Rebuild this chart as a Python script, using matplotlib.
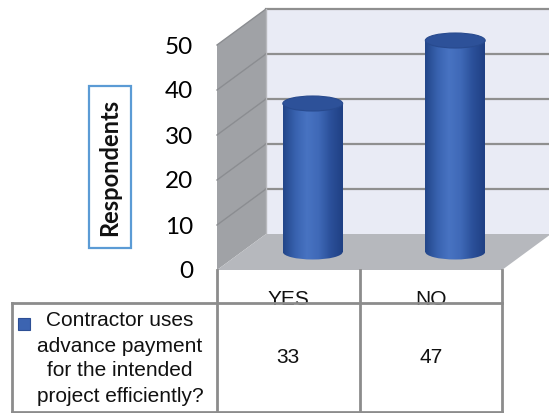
import numpy as np
import matplotlib
matplotlib.use("Agg")
import matplotlib.pyplot as plt
from matplotlib.patches import Polygon, Rectangle, Ellipse
from matplotlib.colors import LinearSegmentedColormap

# data
categories = ["YES", "NO"]
respondents = [33, 47]
y_ticks = [0, 10, 20, 30, 40, 50]
y_max = 50
series_label = "Contractor uses\nadvance payment\nfor the intended\nproject efficiently?"
y_title = "Respondents"

W, H = 549, 413
DPI = 100
fig = plt.figure(figsize=(W / DPI, H / DPI), dpi=DPI)

# front face of the plot box, pixels from the top-left corner
left, right, top, bottom = 217, 502, 45, 270
ax = fig.add_axes([left / W, 1 - bottom / H, (right - left) / W, (bottom - top) / H])
ax.set_xlim(0, len(categories))
ax.set_ylim(0, y_max)
ax.patch.set_visible(False)
for s in ax.spines.values():
    s.set_visible(False)
ax.set_xticks([])
ax.set_yticks(y_ticks)
ax.set_yticklabels([str(t) for t in y_ticks], fontsize=17.5, family="Lato")
ax.tick_params(axis="y", length=0, pad=17)

# overlay in pixel units for the fake 3d box
ov = fig.add_axes([0, 0, 1, 1])
ov.axis("off")

DX, DY = 49, 36  # depth offset of the back wall


def proj(x, y, d):
    px, py = ax.transData.transform((x, y))
    return (px + DX * d, py + DY * d)


n = len(categories)
grid_c = "#8f8f8f"

side = [proj(0, 0, 0), proj(0, y_max, 0), proj(0, y_max, 1), proj(0, 0, 1)]
floor = [proj(0, 0, 0), proj(n, 0, 0), proj(n, 0, 1), proj(0, 0, 1)]
back = [proj(0, 0, 1), proj(n, 0, 1), proj(n, y_max, 1), proj(0, y_max, 1)]
ov.add_patch(Polygon(back, closed=True, fc="#e9ebf5", ec="none", zorder=1))
ov.add_patch(Polygon(side, closed=True, fc="#a0a2a6", ec="none", zorder=1))
ov.add_patch(Polygon(floor, closed=True, fc="#b6b8bd", ec="none", zorder=1))

for t in y_ticks[1:]:
    a, b = proj(0, t, 1), proj(n, t, 1)
    ov.plot([a[0], b[0]], [a[1], b[1]], color=grid_c, lw=1.6, zorder=2)
    a, b = proj(0, t, 0), proj(0, t, 1)
    ov.plot([a[0], b[0]], [a[1], b[1]], color="#8b8d91", lw=1.0, zorder=2)
a, b = proj(0, 0, 1), proj(0, y_max, 1)
ov.plot([a[0], b[0]], [a[1], b[1]], color="#b8b9bd", lw=1.0, zorder=2)

# cylinders
cyl_cmap = LinearSegmentedColormap.from_list(
    "cyl", ["#234689", "#3862af", "#4873c2", "#3f69b7", "#2b509a", "#1f4084"])
grad = cyl_cmap(np.linspace(0, 1, 64))[None, :, :]
bar_w = 0.42
eh = 15
for i, v in enumerate(respondents):
    cx, y0 = proj(i + 0.5, 0, 0.5)
    _, y1 = proj(i + 0.5, v, 0.5)
    cw = proj(i + 0.5 + bar_w / 2, 0, 0)[0] - proj(i + 0.5 - bar_w / 2, 0, 0)[0]
    body = Rectangle((cx - cw / 2, y0), cw, y1 - y0, fc="none", ec="none")
    base = Ellipse((cx, y0), cw, eh, fc="none", ec="none")
    ov.add_patch(body)
    ov.add_patch(base)
    for clip in (body, base):
        im = ov.imshow(grad, extent=(cx - cw / 2, cx + cw / 2, y0 - eh / 2, y1),
                       aspect="auto", zorder=3, interpolation="bilinear")
        im.set_clip_path(clip)
    ov.add_patch(Ellipse((cx, y1), cw, eh, fc="#2d5199", ec="#284a8e", lw=0.8, zorder=4))

# data table under the chart
tc = "#8c8c8c"
col_x = [12] + [proj(k, 0, 0)[0] for k in range(n + 1)]
row_top = proj(0, 0, 0)[1]
row_mid = H - 303
row_bot = H - 412
for xk in col_x[1:]:
    ov.plot([xk, xk], [row_top, row_bot], color=tc, lw=2, zorder=5)
ov.plot([col_x[0], col_x[0]], [row_mid, row_bot], color=tc, lw=2, zorder=5)
ov.plot([col_x[0], col_x[-1]], [row_mid, row_mid], color=tc, lw=2, zorder=5)
ov.plot([col_x[0], col_x[-1]], [row_bot, row_bot], color=tc, lw=2, zorder=5)

tfont = dict(family="Liberation Sans", fontsize=15, color="#111111")
for k, (cat, v) in enumerate(zip(categories, respondents)):
    xc = (col_x[k + 1] + col_x[k + 2]) / 2
    ov.text(xc, row_mid - 2, cat, ha="center", va="baseline", zorder=4, **tfont)
    ov.text(xc, (row_mid + row_bot) / 2, str(v), ha="center", va="center", **tfont)

ov.add_patch(Rectangle((18, H - 330), 12, 12, fc="#3c64b1", ec="#2d4f95", lw=0.8, zorder=5))
ov.text(120, (row_mid + row_bot) / 2 - 1, series_label, ha="center", va="center",
        linespacing=1.4, **tfont)

# axis title in a framed box
ov.add_patch(Rectangle((89, H - 248), 42, 162, fc="white", ec="#5b9bd5", lw=1.6, zorder=5))
ov.text(110, H - 167, y_title, rotation=90, ha="center", va="center",
        family="Lato", fontweight="bold", fontsize=17, color="#111111", zorder=6)

ov.set_xlim(0, W)
ov.set_ylim(0, H)

fig.savefig("out.png", dpi=DPI)
